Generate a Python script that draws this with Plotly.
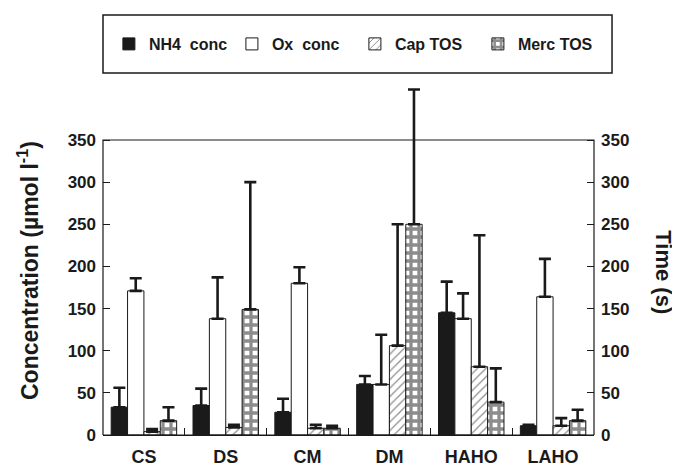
import plotly.graph_objects as go

categories = ["CS", "DS", "CM", "DM", "HAHO", "LAHO"]
nh4 = [33, 35, 27, 60, 145, 11]
nh4_err = [23, 20, 16, 10, 37, 1]
ox = [171, 138, 180, 60, 138, 164]
ox_err = [15, 49, 19, 59, 30, 45]
cap_tos = [4, 9, 8, 106, 81, 11]
cap_err = [3, 3, 4, 144, 156, 9]
merc_tos = [17, 149, 8, 250, 39, 17]
merc_err = [16, 151, 3, 160, 40, 13]
y_ticks = [0, 50, 100, 150, 200, 250, 300, 350]

AXIS_TOP = 350      # top of the drawn frame / scales
VIEW_TOP = 420      # extra headroom so the tall error bar can run past the frame

FONT = "Liberation Sans, Arial, sans-serif"
BLACK = "#1a1a1a"


def err(vals):
    return dict(type="data", symmetric=False, array=vals, arrayminus=[0] * len(vals),
                color=BLACK, thickness=2.6, width=6)


fig = go.Figure()
fig.add_trace(go.Bar(name="NH4  conc", x=categories, y=nh4, error_y=err(nh4_err),
                     marker=dict(color=BLACK, line=dict(color=BLACK, width=1))))
fig.add_trace(go.Bar(name="Ox  conc", x=categories, y=ox, error_y=err(ox_err),
                     marker=dict(color="white", line=dict(color=BLACK, width=1))))
# time series share the same 0-350 scale as the right-hand "Time (s)" axis
fig.add_trace(go.Bar(name="Cap TOS", x=categories, y=cap_tos, error_y=err(cap_err),
                     marker=dict(color="white", line=dict(color=BLACK, width=1),
                                 pattern=dict(shape="/", fgcolor=BLACK, bgcolor="white",
                                              size=6, solidity=0.2))))
fig.add_trace(go.Bar(name="Merc TOS", x=categories, y=merc_tos, error_y=err(merc_err),
                     marker=dict(color="white", line=dict(color=BLACK, width=1),
                                 pattern=dict(shape="+", fgcolor=BLACK, bgcolor="white",
                                              size=8, solidity=0.65))))
# empty trace so the right-hand time axis is drawn
fig.add_trace(go.Scatter(x=[], y=[], yaxis="y2", showlegend=False, hoverinfo="skip"))

axis_common = dict(range=[0, VIEW_TOP], tickvals=y_ticks, ticks="inside", ticklen=7,
                   tickwidth=1, tickcolor=BLACK, showline=False,
                   showgrid=False, zeroline=False, fixedrange=True, automargin=False,
                   tickfont=dict(family=FONT, size=17, color=BLACK, weight="bold"),
                   ticklabelstandoff=6)

H = 354.0  # plot-area height in px


def py(screen_y):
    return (435 - screen_y) / H


fig.update_layout(
    width=680, height=466,
    margin=dict(l=95, r=94, t=73, b=39, autoexpand=False),
    paper_bgcolor="white", plot_bgcolor="white",
    barmode="group", bargap=0.2, bargroupgap=0,
    font=dict(family=FONT, color=BLACK),
    xaxis=dict(showline=True, linecolor=BLACK, linewidth=1.2,
               ticks="inside", ticklen=7, tickwidth=1, tickcolor=BLACK,
               tickson="boundaries", showgrid=False, automargin=False,
               tickfont=dict(family=FONT, size=18, color=BLACK, weight="bold"),
               ticklabelstandoff=5),
    yaxis=dict(**axis_common),
    yaxis2=dict(**axis_common, overlaying="y", side="right"),
    legend=dict(orientation="h", x=0.012, xanchor="left", y=py(44), yanchor="middle",
                entrywidth=78, entrywidthmode="pixels",
                font=dict(family=FONT, size=16, color=BLACK, weight="bold"),
                bgcolor="rgba(0,0,0,0)", borderwidth=0),
    shapes=[
        # legend box
        dict(type="rect", xref="paper", yref="paper", x0=0, x1=1.0367,
             y0=py(73), y1=py(15), line=dict(color=BLACK, width=1.5),
             fillcolor="rgba(0,0,0,0)", layer="below"),
        # plot frame from 0 to 350
        dict(type="rect", xref="paper", yref="y", x0=0, x1=1, y0=0, y1=AXIS_TOP,
             line=dict(color=BLACK, width=1.2), fillcolor="rgba(0,0,0,0)", layer="above"),
    ],
    annotations=[
        dict(text="Concentration (µmol l<sup>-1</sup>)", xref="paper", yref="paper",
             x=-0.1527, y=py(271), xanchor="center", yanchor="middle", textangle=-90,
             showarrow=False, font=dict(family=FONT, size=23, color=BLACK, weight="bold")),
        dict(text="Time (s)", xref="paper", yref="paper",
             x=1.142, y=py(272), xanchor="center", yanchor="middle", textangle=90,
             showarrow=False, font=dict(family=FONT, size=22, color=BLACK, weight="bold")),
    ],
)

fig.write_html("out.html")
